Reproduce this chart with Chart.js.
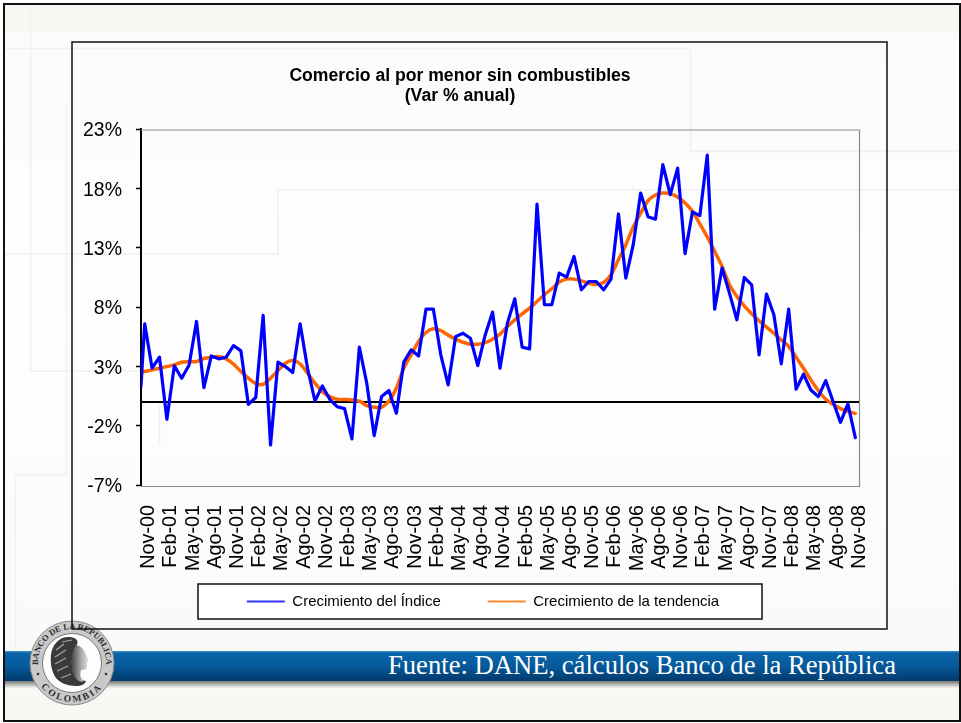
<!DOCTYPE html>
<html lang="es">
<head>
<meta charset="utf-8">
<title>Comercio al por menor sin combustibles</title>
<script src="https://cdn.jsdelivr.net/npm/chart.js@4"></script>
<style>
html,body{margin:0;padding:0;width:961px;height:723px;overflow:hidden;background:#fff}
#bg{position:absolute;left:0;top:0}
#c{position:absolute;left:0;top:0}
</style>
</head>
<body>
<svg id="bg" width="961" height="723" viewBox="0 0 961 723" xmlns="http://www.w3.org/2000/svg">
  <defs>
    <linearGradient id="band" x1="0" y1="0" x2="0" y2="1">
      <stop offset="0" stop-color="#3f93c8"/><stop offset=".07" stop-color="#0a63a8"/>
      <stop offset=".5" stop-color="#065a9c"/><stop offset="1" stop-color="#033a6c"/>
    </linearGradient>
    <linearGradient id="shadow" x1="0" y1="0" x2="0" y2="1">
      <stop offset="0" stop-color="#777"/><stop offset="1" stop-color="#f4f4f0"/>
    </linearGradient>
    <linearGradient id="pagebg" x1="0" y1="0" x2="0" y2="1">
      <stop offset="0" stop-color="#fbfbfb"/><stop offset=".45" stop-color="#fefefe"/>
      <stop offset=".8" stop-color="#fbfbfb"/><stop offset="1" stop-color="#f7f7f3"/>
    </linearGradient>
    <linearGradient id="face" x1="0" y1="0" x2="1" y2="0">
      <stop offset="0" stop-color="#444"/><stop offset=".55" stop-color="#aaa"/><stop offset="1" stop-color="#e8e8e8"/>
    </linearGradient>
    <path id="arcTop" d="M38 663 A34 34 0 0 1 106 663"/>
    <path id="arcBot" d="M33 663 A39 39 0 0 0 111 663"/>
  </defs>
  <rect width="961" height="723" fill="#fff"/>
  <rect x="5" y="5" width="955" height="716" fill="url(#pagebg)"/>
  <rect x="5" y="5" width="955" height="28" fill="#f7f7f3"/>
  <g fill="none" stroke="#f0f0ee" stroke-width="1.5">
    <path d="M30.5 5V371H141"/>
    <path d="M5 48.5H690.5V151H960"/>
    <path d="M5 254H278V190H960"/>
    <path d="M66.5 107V475H15.5V652"/>
    <path d="M159.5 405V445"/>
  </g>
  <rect x="5" y="681" width="955" height="7" fill="url(#shadow)"/>
  <rect x="5" y="651" width="955" height="30" fill="url(#band)"/>
  <text x="388" y="674" font-family="'Liberation Serif',serif" font-size="28" fill="#fff" textLength="508" lengthAdjust="spacingAndGlyphs">Fuente: DANE, cálculos Banco de la República</text>
  <rect x="4" y="4" width="956" height="717" fill="none" stroke="#111" stroke-width="2"/>
  <!-- emblem -->
  <circle cx="72" cy="663" r="42" fill="#c9c9c9" stroke="#8a8a8a" stroke-width="1"/>
  <circle cx="72" cy="663" r="29.5" fill="#fdfdfd" stroke="#777" stroke-width="1"/>
  <text font-family="'Liberation Serif',serif" font-weight="bold" font-size="8.5" fill="#2b2b2b">
    <textPath href="#arcTop" startOffset="50%" text-anchor="middle">BANCO DE LA REPUBLICA</textPath>
  </text>
  <text font-family="'Liberation Serif',serif" font-weight="bold" font-size="9.5" fill="#2b2b2b" letter-spacing="2.2">
    <textPath href="#arcBot" startOffset="50%" text-anchor="middle">COLOMBIA</textPath>
  </text>
  <circle cx="38" cy="674" r="1.3" fill="#333"/><circle cx="106" cy="674" r="1.3" fill="#333"/>
  <path d="M70 637C60 636 52 644 51 655C50 664 52 672 56 678C60 683 68 686 76 686C82 686 85 684 86 681C80 680 76 678 74 672C70 664 72 654 76 646C79 642 78 638 70 637Z" fill="#3a3a3a"/>
  <path d="M76 645C81 646 85 650 86 655L89 660L87 662L87 667C87 670 83 670 81 670C80 675 80 678 84 681C80 683 76 680 74 675C70 665 71 652 76 645Z" fill="url(#face)"/>
  <g stroke="#a8a8a8" stroke-width="1.1" fill="none">
    <path d="M56 650L64 644M55 657L66 650M55 664L66 658M57 671L68 666M61 678L71 674M62 642L72 640"/>
  </g>
</svg>
<canvas id="c" width="961" height="723"></canvas>
<script>
const titleLines = ['Comercio al por menor sin combustibles', '(Var % anual)'];
const seriesBlueName = 'Crecimiento del Índice';
const seriesOrangeName = 'Crecimiento de la tendencia';
const monthNames = ['Nov','Dic','Ene','Feb','Mar','Abr','May','Jun','Jul','Ago','Sep','Oct'];
const tickStep = 3;
const yTicks = [-7,-2,3,8,13,18,23];
const blueBefore = 1.3;
const orangeBefore = 2.5;
const indice = [
 6.58,2.84,3.77,-1.46,3.04,2.0,3.12,6.78,1.2,3.88,3.63,3.77,4.75,4.3,-0.2,0.37,
 7.29,-3.63,3.35,2.98,2.48,6.58,2.84,0.08,1.35,0.22,-0.4,-0.56,-3.12,4.61,1.58,-2.84,
 0.45,0.96,-0.96,3.35,4.39,3.88,7.82,7.82,3.97,1.43,5.5,5.79,5.37,3.07,5.65,7.57,
 2.84,6.64,8.69,4.61,4.47,16.68,8.19,8.19,10.86,10.52,12.26,9.45,10.15,10.15,9.45,10.35,
 15.84,10.44,13.25,17.6,15.6,15.4,20.0,17.47,19.7,12.5,16.0,15.7,20.8,7.82,11.28,9.17,
 6.92,10.49,9.87,3.97,9.09,7.34,3.21,7.82,1.07,2.33,1.01,0.45,1.8,0.03,-1.72,-0.17,-3.01];
const tendencia = [
 2.56,2.7,2.84,2.98,3.12,3.35,3.38,3.4,3.66,3.77,3.83,3.63,3.18,2.56,2.0,1.55,
 1.49,2.0,2.64,3.26,3.49,3.2,2.42,1.58,0.87,0.45,0.22,0.2,0.17,0.06,-0.31,-0.45,
 -0.45,0.08,1.15,2.84,3.97,5.09,5.85,6.16,6.02,5.63,5.29,5.03,4.87,4.87,5.0,5.29,
 5.71,6.36,6.92,7.43,7.9,8.47,9.03,9.54,10.1,10.35,10.35,10.2,10.0,9.9,10.07,10.72,
 11.98,13.25,14.74,15.9,16.96,17.44,17.6,17.55,17.27,16.76,16.06,15.0,13.9,12.69,11.42,9.87,
 8.89,8.1,7.43,6.84,6.3,5.79,5.23,4.67,3.77,2.84,1.86,0.96,0.22,-0.2,-0.56,-0.79,-0.98];
const firstYear = 0; // 2000 = "00"
const months = indice.map((_, i) => {
  const yy = firstYear + Math.floor((i + 10) / 12);
  return monthNames[i % 12] + '-' + String(yy).padStart(2, '0');
});
const toPoints = (arr, before) => [{x:-0.5, y:before}].concat(arr.map((y, i) => ({x:i, y})));

const decor = {
  id: 'decor',
  afterLayout(chart) {
    const t = chart.titleBlock, l = chart.legend;
    t.left = 160; t.right = 760; t.top = 66; t.bottom = 108;
    l.left = 198; l.right = 768; l.top = 547; l.bottom = 619;
  },
  beforeDraw(chart) {
    const c = chart.ctx;
    // nudge tick labels to sit where the original's do
    const nudge = (scale, dx, dy) => {
      scale.getLabelItems().forEach(it => {
        if (!it._moved) { it.options.translation[0] += dx; it.options.translation[1] += dy; it._moved = true; }
      });
    };
    nudge(chart.scales.x, 4, 0);
    nudge(chart.scales.y, 0, 2);
    c.save();
    c.strokeStyle = '#111'; c.lineWidth = 1.5;
    c.strokeRect(72, 42, 815, 587);
    c.fillStyle = '#fff';
    c.fillRect(198, 584, 564, 35);
    c.strokeRect(198, 584, 564, 35);
    c.restore();
  },
  beforeDatasetsDraw(chart) {
    const c = chart.ctx, a = chart.chartArea, y0 = chart.scales.y.getPixelForValue(0);
    c.save();
    c.strokeStyle = '#8a8a8a'; c.lineWidth = 1.2;
    c.beginPath();
    c.moveTo(a.left, a.top + 1); c.lineTo(a.right + .5, a.top + 1); c.lineTo(a.right + .5, a.bottom + 1.5); c.lineTo(a.left, a.bottom + 1.5);
    c.stroke();
    c.strokeStyle = '#000'; c.lineWidth = 2;
    c.beginPath(); c.moveTo(a.left, y0); c.lineTo(a.right, y0); c.stroke();
    c.restore();
  }
};

new Chart(document.getElementById('c'), {
  type: 'line',
  plugins: [decor],
  data: {
    datasets: [
      {label: seriesBlueName, data: toPoints(indice, blueBefore), borderColor:'#0000ff', backgroundColor:'#0000ff', borderWidth:3.2, pointRadius:0, tension:0, borderJoinStyle:'round', borderCapStyle:'round'},
      {label: seriesOrangeName, data: toPoints(tendencia, orangeBefore), borderColor:'#ff6600', backgroundColor:'#ff6600', borderWidth:3.5, pointRadius:0, tension:0.25, borderCapStyle:'round'}
    ]
  },
  options: {
    responsive:false, animation:false, devicePixelRatio:1,
    layout:{padding:{left:20,right:102,top:89,bottom:66}},
    plugins:{
      tooltip:{enabled:false},
      title:{display:true, text:titleLines, color:'#000', padding:0, font:{family:"'Liberation Sans',Arial,sans-serif", size:17.6, weight:'bold', lineHeight:'20px'}},
      legend:{display:true, position:'bottom', labels:{
        font:{family:"'Liberation Sans',Arial,sans-serif", size:15, lineHeight:1},
        color:'#000', padding:47, usePointStyle:true, pointStyle:'line', pointStyleWidth:38, boxHeight:15,
        generateLabels(chart){
          const cols=['#3333ff','#ff8833'];
          return chart.data.datasets.map((d,i)=>({text:d.label, datasetIndex:i, strokeStyle:cols[i], fillStyle:cols[i], lineWidth:2, pointStyle:'line', fontColor:'#000'}));
        }
      }}
    },
    scales:{
      x:{type:'linear', min:-0.5, max:96.5,
        afterBuildTicks(s){ s.ticks = months.map((_,i)=>i).filter(i=>i%tickStep===0).map(v=>({value:v})); },
        afterFit(s){ s.height = 100; },
        grid:{display:false}, border:{display:false},
        ticks:{autoSkip:false, minRotation:90, maxRotation:90, padding:12, color:'#000',
          font:{family:"'Liberation Sans',Arial,sans-serif", size:19.8},
          callback:(v)=>months[v]}
      },
      y:{min:-7, max:23,
        afterBuildTicks(s){ s.ticks = yTicks.map(v=>({value:v})); },
        afterFit(s){ s.width = 121; },
        grid:{drawOnChartArea:false, tickLength:5, tickColor:'#000', tickWidth:1.5},
        border:{color:'#000', width:2},
        ticks:{padding:14, color:'#000', font:{family:"'Liberation Sans',Arial,sans-serif", size:19.5}, callback:(v)=>v+'%'}
      }
    }
  }
});
</script>
</body>
</html>
